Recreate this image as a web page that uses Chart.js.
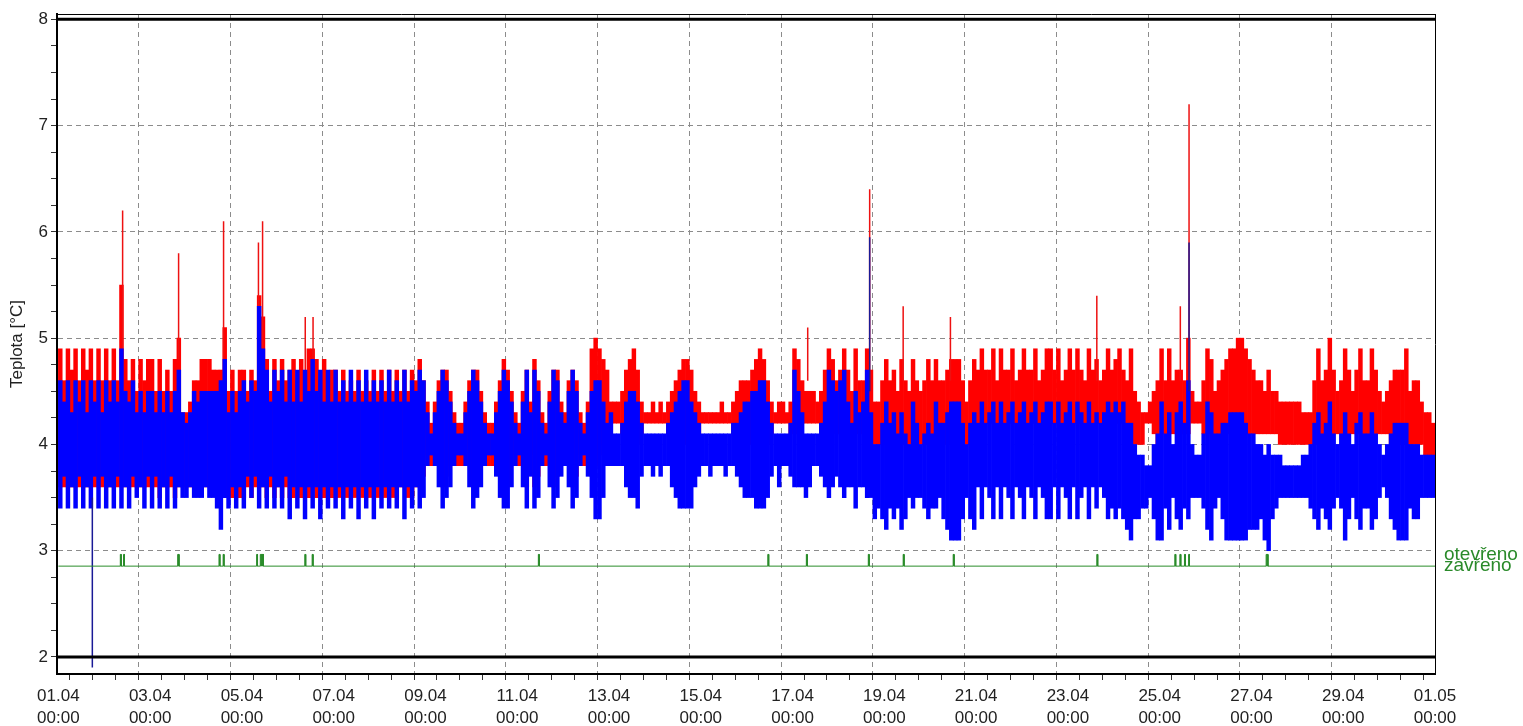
<!DOCTYPE html>
<html>
<head>
<meta charset="utf-8">
<title>Teplota</title>
<script src="https://cdn.jsdelivr.net/npm/chart.js@4.4.1/dist/chart.umd.min.js"></script>
<style>
  html, body { margin: 0; padding: 0; background: #ffffff; }
  #wrap { position: relative; width: 1523px; height: 726px; }
</style>
</head>
<body>
<div id="wrap"><canvas id="c" width="1523" height="726"></canvas></div>
<script>
// Two-hour min/max envelopes, one row per day (01.04 ... 30.04), 12 buckets per row.
const BUCKETS_PER_DAY = 12;

const redHigh = [
  4.9,4.6,4.9,4.7,4.9,4.6,4.9,4.7,4.9,4.6,4.9,4.6,
  4.9,4.6,4.9,4.6,5.5,4.8,4.6,4.8,4.5,4.8,4.6,4.8,
  4.8,4.5,4.8,4.5,4.7,4.5,4.8,5.0,4.3,4.3,4.4,4.6,
  4.6,4.8,4.8,4.8,4.7,4.7,4.7,5.1,4.5,4.7,4.5,4.7,
  4.7,4.5,4.7,4.6,5.4,5.2,4.8,4.5,4.8,4.6,4.8,4.6,
  4.7,4.8,4.6,4.8,4.6,4.9,4.9,4.8,4.6,4.8,4.6,4.7,
  4.7,4.5,4.7,4.5,4.6,4.5,4.7,4.5,4.6,4.5,4.7,4.5,
  4.7,4.5,4.7,4.5,4.7,4.5,4.7,4.5,4.7,4.6,4.8,4.6,
  4.4,4.2,4.4,4.6,4.7,4.7,4.5,4.3,4.2,4.2,4.4,4.6,
  4.7,4.7,4.5,4.3,4.2,4.2,4.4,4.6,4.8,4.7,4.5,4.3,
  4.2,4.5,4.7,4.4,4.8,4.6,4.3,4.2,4.5,4.7,4.7,4.4,
  4.3,4.6,4.7,4.6,4.3,4.2,4.4,4.9,5.0,4.9,4.8,4.7,
  4.4,4.4,4.4,4.5,4.7,4.8,4.9,4.7,4.4,4.3,4.3,4.4,
  4.3,4.4,4.3,4.4,4.5,4.6,4.7,4.8,4.8,4.7,4.5,4.4,
  4.3,4.3,4.3,4.3,4.3,4.4,4.3,4.3,4.4,4.5,4.6,4.6,
  4.6,4.7,4.8,4.9,4.8,4.6,4.4,4.3,4.4,4.4,4.3,4.4,
  4.9,4.8,4.6,4.5,4.5,4.5,4.4,4.5,4.7,4.9,4.8,4.6,
  4.7,4.9,4.7,4.5,4.9,4.6,4.6,4.9,4.7,4.4,4.4,4.6,
  4.8,4.6,4.7,4.5,4.8,4.6,4.5,4.8,4.6,4.5,4.6,4.8,
  4.6,4.8,4.6,4.6,4.7,4.8,4.8,4.8,4.6,4.4,4.6,4.8,
  4.7,4.9,4.7,4.7,4.9,4.6,4.9,4.7,4.7,4.9,4.6,4.7,
  4.9,4.7,4.7,4.9,4.6,4.7,4.9,4.9,4.7,4.9,4.6,4.7,
  4.9,4.7,4.9,4.7,4.6,4.9,4.7,4.8,4.6,4.7,4.9,4.7,
  4.8,4.9,4.7,4.6,4.9,4.5,4.4,4.3,4.3,4.4,4.5,4.6,
  4.9,4.6,4.9,4.6,4.7,4.7,4.6,5.0,4.5,4.4,4.4,4.6,
  4.9,4.8,4.5,4.6,4.7,4.8,4.9,4.9,5.0,5.0,4.9,4.8,
  4.7,4.6,4.6,4.5,4.7,4.5,4.5,4.4,4.4,4.4,4.4,4.4,
  4.4,4.3,4.3,4.3,4.6,4.9,4.6,4.7,5.0,4.7,4.5,4.6,
  4.9,4.7,4.5,4.7,4.9,4.6,4.6,4.9,4.7,4.5,4.4,4.5,
  4.6,4.7,4.7,4.7,4.9,4.5,4.6,4.6,4.4,4.3,4.3,4.2
];

const redLow = [
  3.6,3.6,3.6,3.6,3.6,3.6,3.6,3.6,3.6,3.6,3.6,3.6,
  3.6,3.6,3.6,3.6,3.6,3.6,3.6,3.6,3.6,3.6,3.6,3.6,
  3.6,3.6,3.5,3.6,3.6,3.6,3.5,3.6,3.6,3.6,3.6,3.6,
  3.6,3.6,3.6,3.6,3.6,3.5,3.6,3.5,3.6,3.5,3.6,3.5,
  3.5,3.6,3.5,3.6,3.6,3.6,3.5,3.6,3.5,3.6,3.5,3.6,
  3.5,3.5,3.6,3.5,3.5,3.5,3.6,3.5,3.5,3.5,3.6,3.5,
  3.5,3.5,3.6,3.5,3.5,3.5,3.6,3.5,3.5,3.5,3.6,3.5,
  3.5,3.5,3.6,3.5,3.5,3.6,3.6,3.5,3.5,3.6,3.6,3.7,
  3.9,3.8,3.9,3.8,3.6,3.7,3.8,3.8,3.8,3.8,3.9,3.8,
  3.6,3.7,3.8,3.9,3.8,3.8,3.9,3.7,3.6,3.6,3.8,3.9,
  3.8,3.8,3.6,3.9,3.6,3.7,3.9,3.8,3.8,3.6,3.7,3.9,
  3.9,3.8,3.6,3.7,3.9,3.8,3.9,3.7,3.8,3.9,4.0,4.1,
  4.2,4.2,4.2,4.1,4.0,4.0,4.0,4.0,4.1,4.2,4.2,4.2,
  4.2,4.2,4.2,4.1,4.0,4.0,4.0,4.0,4.0,4.0,4.0,4.1,
  4.2,4.2,4.2,4.2,4.2,4.2,4.2,4.2,4.1,4.1,4.0,4.0,
  4.0,4.0,4.0,4.0,4.0,4.0,4.1,4.2,4.2,4.2,4.2,4.1,
  4.1,4.1,4.2,4.2,4.2,4.2,4.2,4.2,4.1,4.1,4.1,4.1,
  4.1,4.1,4.1,4.2,4.1,4.1,4.1,4.1,4.0,4.0,4.0,4.0,
  4.0,4.0,4.0,4.0,4.0,4.0,4.0,4.0,4.0,4.0,4.0,4.0,
  4.0,4.0,4.0,4.0,4.0,4.0,4.0,4.0,4.0,4.0,4.0,4.0,
  4.2,4.2,4.2,4.2,4.2,4.2,4.2,4.2,4.2,4.2,4.2,4.2,
  4.2,4.2,4.2,4.2,4.2,4.2,4.2,4.2,4.2,4.2,4.2,4.2,
  4.2,4.2,4.2,4.2,4.2,4.2,4.2,4.2,4.2,4.2,4.2,4.2,
  4.2,4.2,4.2,4.1,4.1,4.0,4.0,4.0,4.2,4.2,4.1,4.0,
  4.1,4.1,4.1,4.1,4.1,4.1,4.1,4.1,4.2,4.2,4.2,4.1,
  4.1,4.1,4.1,4.1,4.1,4.1,4.1,4.1,4.1,4.1,4.1,4.1,
  4.1,4.1,4.1,4.1,4.1,4.1,4.1,4.0,4.0,4.0,4.0,4.0,
  4.0,4.0,4.0,4.0,4.0,4.0,4.1,4.1,4.1,4.1,4.1,4.1,
  4.1,4.1,4.1,4.1,4.1,4.1,4.1,4.1,4.1,4.1,4.1,4.1,
  4.0,4.0,4.0,4.0,4.0,4.0,4.0,4.0,4.0,3.9,3.9,3.9
];

const blueHigh = [
  4.6,4.4,4.6,4.3,4.6,4.4,4.6,4.3,4.6,4.4,4.6,4.3,
  4.6,4.4,4.6,4.4,4.9,4.5,4.4,4.6,4.3,4.5,4.3,4.5,
  4.5,4.3,4.5,4.3,4.5,4.3,4.5,4.7,4.3,4.2,4.3,4.5,
  4.4,4.5,4.5,4.5,4.5,4.5,4.6,4.8,4.3,4.5,4.3,4.5,
  4.6,4.4,4.6,4.5,5.3,4.9,4.7,4.4,4.7,4.5,4.7,4.4,
  4.7,4.4,4.7,4.4,4.7,4.5,4.8,4.5,4.7,4.4,4.7,4.4,
  4.7,4.4,4.6,4.4,4.7,4.4,4.6,4.4,4.7,4.4,4.6,4.4,
  4.6,4.4,4.7,4.4,4.6,4.4,4.7,4.4,4.6,4.5,4.7,4.6,
  4.3,4.1,4.3,4.5,4.7,4.6,4.4,4.2,4.1,4.1,4.3,4.5,
  4.7,4.6,4.4,4.2,4.1,4.1,4.3,4.5,4.7,4.6,4.4,4.2,
  4.1,4.4,4.7,4.3,4.7,4.5,4.2,4.1,4.4,4.7,4.6,4.3,
  4.2,4.5,4.7,4.5,4.2,4.1,4.3,4.5,4.6,4.6,4.4,4.2,
  4.3,4.1,4.1,4.2,4.4,4.5,4.5,4.4,4.2,4.1,4.1,4.1,
  4.1,4.1,4.1,4.2,4.3,4.4,4.5,4.6,4.6,4.4,4.3,4.2,
  4.1,4.1,4.1,4.1,4.1,4.1,4.1,4.1,4.2,4.2,4.3,4.4,
  4.4,4.5,4.5,4.6,4.6,4.4,4.2,4.1,4.1,4.1,4.1,4.2,
  4.7,4.5,4.3,4.1,4.1,4.1,4.1,4.2,4.4,4.7,4.6,4.5,
  4.6,4.7,4.4,4.2,4.5,4.3,4.4,4.7,4.3,4.0,4.0,4.2,
  4.4,4.2,4.3,4.1,4.3,4.1,4.0,4.4,4.2,4.0,4.1,4.2,
  4.1,4.4,4.2,4.2,4.3,4.4,4.4,4.4,4.2,4.0,4.2,4.3,
  4.2,4.4,4.2,4.3,4.4,4.2,4.4,4.2,4.3,4.4,4.2,4.3,
  4.4,4.2,4.3,4.4,4.2,4.3,4.4,4.4,4.2,4.4,4.2,4.3,
  4.4,4.2,4.4,4.3,4.2,4.4,4.2,4.3,4.2,4.3,4.4,4.3,
  4.4,4.3,4.4,4.2,4.2,4.0,3.9,3.9,3.8,3.8,4.0,4.1,
  4.4,4.1,4.3,4.0,4.3,4.4,4.2,4.6,4.0,3.9,3.9,4.1,
  4.4,4.3,4.1,4.1,4.2,4.2,4.3,4.3,4.3,4.3,4.2,4.1,
  4.1,4.0,4.0,3.9,4.0,3.9,3.9,3.9,3.8,3.8,3.8,3.8,
  3.8,3.9,3.9,4.0,4.2,4.3,4.1,4.2,4.4,4.1,4.0,4.1,
  4.3,4.1,4.0,4.2,4.3,4.1,4.1,4.3,4.1,4.0,3.9,4.0,
  4.1,4.2,4.2,4.2,4.2,4.0,4.0,4.0,3.9,3.9,3.9,3.9
];

const blueLow = [
  3.4,3.7,3.4,3.6,3.4,3.7,3.4,3.6,3.4,3.7,3.4,3.7,
  3.4,3.6,3.4,3.7,3.4,3.6,3.4,3.7,3.5,3.6,3.4,3.7,
  3.4,3.7,3.4,3.6,3.4,3.7,3.4,3.6,3.5,3.5,3.6,3.5,
  3.5,3.5,3.6,3.5,3.5,3.4,3.2,3.5,3.4,3.6,3.4,3.6,
  3.4,3.7,3.5,3.7,3.4,3.6,3.4,3.7,3.4,3.6,3.4,3.7,
  3.3,3.6,3.4,3.6,3.3,3.6,3.4,3.6,3.3,3.6,3.4,3.6,
  3.4,3.6,3.3,3.6,3.4,3.6,3.3,3.6,3.4,3.6,3.3,3.6,
  3.4,3.6,3.4,3.6,3.4,3.6,3.3,3.6,3.4,3.6,3.4,3.5,
  3.8,3.9,3.8,3.6,3.4,3.5,3.6,3.8,3.9,3.9,3.8,3.6,
  3.4,3.5,3.6,3.8,3.9,3.9,3.7,3.5,3.4,3.4,3.6,3.8,
  3.9,3.6,3.4,3.7,3.4,3.5,3.8,3.9,3.6,3.4,3.5,3.7,
  3.8,3.6,3.4,3.5,3.8,3.9,3.7,3.5,3.3,3.3,3.5,3.8,
  3.8,3.8,3.8,3.8,3.6,3.5,3.5,3.4,3.7,3.8,3.8,3.7,
  3.8,3.7,3.8,3.8,3.6,3.5,3.4,3.4,3.4,3.4,3.6,3.7,
  3.8,3.8,3.7,3.8,3.8,3.8,3.7,3.8,3.8,3.7,3.6,3.5,
  3.5,3.5,3.4,3.4,3.4,3.5,3.7,3.8,3.6,3.8,3.8,3.7,
  3.6,3.6,3.6,3.5,3.6,3.8,3.8,3.7,3.6,3.5,3.6,3.7,
  3.6,3.5,3.6,3.6,3.4,3.6,3.6,3.5,3.5,3.3,3.4,3.3,
  3.2,3.4,3.3,3.4,3.2,3.3,3.5,3.4,3.5,3.5,3.4,3.3,
  3.4,3.4,3.5,3.3,3.2,3.1,3.1,3.1,3.3,3.5,3.3,3.2,
  3.6,3.3,3.6,3.5,3.3,3.6,3.3,3.6,3.5,3.3,3.6,3.5,
  3.3,3.6,3.5,3.3,3.6,3.5,3.3,3.3,3.6,3.3,3.6,3.5,
  3.3,3.6,3.3,3.5,3.6,3.3,3.6,3.4,3.6,3.5,3.3,3.4,
  3.3,3.4,3.3,3.2,3.1,3.3,3.3,3.4,3.4,3.5,3.3,3.1,
  3.1,3.4,3.2,3.5,3.3,3.2,3.4,3.3,3.5,3.5,3.5,3.4,
  3.2,3.1,3.4,3.5,3.3,3.1,3.1,3.1,3.1,3.1,3.1,3.2,
  3.2,3.2,3.3,3.1,3.0,3.3,3.4,3.5,3.5,3.5,3.5,3.5,
  3.5,3.5,3.5,3.4,3.3,3.2,3.4,3.3,3.2,3.4,3.5,3.4,
  3.1,3.3,3.5,3.3,3.2,3.4,3.4,3.2,3.3,3.5,3.6,3.5,
  3.3,3.2,3.1,3.1,3.1,3.4,3.3,3.3,3.5,3.5,3.5,3.5
];

// Short single readings: [day, from, to]
const redSpikes = [
  [1.40, 4.8, 6.2], [2.62, 4.8, 5.8], [3.60, 4.8, 6.1], [4.36, 4.8, 5.9],
  [4.45, 4.8, 6.1], [5.38, 4.6, 5.2], [5.55, 4.6, 5.2], [16.33, 4.6, 5.1],
  [17.68, 4.6, 6.4], [18.41, 4.6, 5.3], [19.44, 4.6, 5.2], [22.63, 4.6, 5.4],
  [24.45, 4.6, 5.3], [24.64, 4.6, 7.2]
];
const blueSpikes = [
  [0.74, 3.5, 1.9], [17.68, 4.5, 5.95], [24.64, 4.5, 5.9]
];

// Door contact: open intervals [from day, to day]
const doorOpen = [
  [1.35, 1.37], [1.42, 1.44], [2.60, 2.63], [3.50, 3.52], [3.59, 3.61],
  [4.32, 4.34], [4.40, 4.47], [5.37, 5.39], [5.53, 5.55], [10.46, 10.48],
  [15.46, 15.48], [16.30, 16.32], [17.65, 17.67], [18.41, 18.43], [19.50, 19.52],
  [22.63, 22.65], [24.33, 24.35], [24.44, 24.46], [24.54, 24.56], [24.63, 24.65],
  [26.32, 26.36]
];
const doorStates = ['zavřeno', 'otevřeno'];
const doorLevels = [2.855, 2.965];

// Alarm limits
const limits = [2, 8];

// Axis labels
const dateLabels = ['01.04','03.04','05.04','07.04','09.04','11.04','13.04','15.04',
                    '17.04','19.04','21.04','23.04','25.04','27.04','29.04','01.05'];
const timeLabel = '00:00';
const yTitle = 'Teplota [°C]';

const X_MIN = -0.03, X_MAX = 30;
const Y_MIN = 1.84, Y_MAX = 8.05;

function envelope(lo, hi) {
  return hi.map((h, i) => ({ x: (i + 0.5) / BUCKETS_PER_DAY, y: [lo[i], h] }));
}
function spikeSegments(list) {
  const pts = [];
  list.forEach(([t, a, b]) => { pts.push({ x: t, y: a }, { x: t, y: b }, { x: t, y: null }); });
  return pts;
}
function doorTrace() {
  const [closed, open] = doorLevels;
  const pts = [{ x: 0, y: closed }];
  doorOpen.forEach(([s, e]) => {
    pts.push({ x: s, y: closed }, { x: s, y: open }, { x: e, y: open }, { x: e, y: closed });
  });
  pts.push({ x: X_MAX, y: closed });
  return pts;
}

const lineBase = { type: 'line', pointRadius: 0, tension: 0, spanGaps: false, borderCapStyle: 'butt' };
const barBase = { type: 'bar', grouped: false, barPercentage: 1, categoryPercentage: 1, borderWidth: 0 };
const doorGreen = '#2a8c2a';

Chart.defaults.font.family = '"Liberation Sans", Arial, sans-serif';

const datasets = [
  Object.assign({}, barBase, { label: 'red', data: envelope(redLow, redHigh), backgroundColor: '#ff0000', order: 5 }),
  Object.assign({}, lineBase, { label: 'red peaks', data: spikeSegments(redSpikes), borderColor: '#ee1111', borderWidth: 1.5, order: 4 }),
  Object.assign({}, barBase, { label: 'blue', data: envelope(blueLow, blueHigh), backgroundColor: '#0000ff', order: 3 }),
  Object.assign({}, lineBase, { label: 'blue peaks', data: spikeSegments(blueSpikes), borderColor: '#1a1a96', borderWidth: 1.5, order: 2 }),
  Object.assign({}, lineBase, {
    label: 'door', data: doorTrace(), borderColor: doorGreen, borderWidth: 1,
    fill: { value: doorLevels[0] }, backgroundColor: doorGreen, order: 1
  })
].concat(limits.map(v => Object.assign({}, lineBase, {
  label: 'limit ' + v, data: [{ x: X_MIN, y: v }, { x: X_MAX, y: v }], borderColor: '#000000', borderWidth: 3, order: 0
})));

const gridGray = '#8c8c8c';
const clear = 'rgba(0,0,0,0)';
const noPadV = s => { s.paddingTop = 0; s.paddingBottom = 0; };

new Chart(document.getElementById('c'), {
  type: 'bar',
  data: { datasets },
  options: {
    responsive: false,
    animation: false,
    events: [],
    layout: { padding: { top: 14, left: 0, right: 0, bottom: 0 } },
    plugins: { legend: { display: false }, tooltip: { enabled: false } },
    scales: {
      x: {
        type: 'linear', position: 'bottom', min: X_MIN, max: X_MAX, offset: false,
        afterBuildTicks: s => { s.ticks = []; for (let k = 0; k <= 60; k++) s.ticks.push({ value: k / 2 }); },
        ticks: {
          autoSkip: false, maxRotation: 0, minRotation: 0, padding: 6,
          color: '#222', font: { size: 17, lineHeight: 1.25 },
          callback: v => (v % 2 === 0 ? [dateLabels[v / 2], timeLabel] : '')
        },
        grid: {
          color: c => (c.tick && c.tick.value % 2 === 0 && c.tick.value > 0 && c.tick.value < 30) ? gridGray : clear,
          tickBorderDash: [], tickColor: '#333', tickLength: 6, lineWidth: 1
        },
        border: { color: '#000', width: 2, dash: [5, 4] },
        afterFit: s => { s.height = 52; s.paddingLeft = 0; s.paddingRight = 0; }
      },
      x2: {
        type: 'linear', position: 'top', min: X_MIN, max: X_MAX,
        ticks: { display: false }, grid: { display: false, drawTicks: false },
        border: { display: true, color: '#000', width: 1 },
        afterFit: s => { s.height = 0; s.paddingLeft = 0; s.paddingRight = 0; }
      },
      y: {
        type: 'linear', position: 'left', min: Y_MIN, max: Y_MAX,
        afterBuildTicks: s => { s.ticks = []; for (let k = 8; k <= 32; k++) s.ticks.push({ value: k / 4 }); },
        ticks: {
          autoSkip: false, padding: 3, color: '#222', font: { size: 17 },
          callback: v => (Number.isInteger(v) ? String(v) : '')
        },
        grid: {
          color: c => (c.tick && Number.isInteger(c.tick.value) && c.tick.value > 2 && c.tick.value < 8) ? gridGray : clear,
          tickBorderDash: [], tickColor: '#333', tickLength: 6, lineWidth: 1
        },
        border: { color: '#000', width: 2, dash: [5, 4] },
        title: { display: true, text: yTitle, color: '#222', font: { size: 17 }, padding: { top: 7, bottom: 0 } },
        afterFit: s => { s.width = 57; noPadV(s); }
      },
      y2: {
        type: 'linear', position: 'right', min: Y_MIN, max: Y_MAX,
        afterBuildTicks: s => { s.ticks = doorLevels.map(v => ({ value: v })); },
        ticks: {
          autoSkip: false, padding: 9, color: '#2a8a2a', font: { size: 19 },
          callback: v => doorStates[doorLevels.indexOf(v)]
        },
        grid: { display: false, drawTicks: false },
        border: { display: true, color: '#000', width: 1 },
        afterFit: s => { s.width = 88; noPadV(s); }
      }
    }
  }
});
</script>
</body>
</html>
